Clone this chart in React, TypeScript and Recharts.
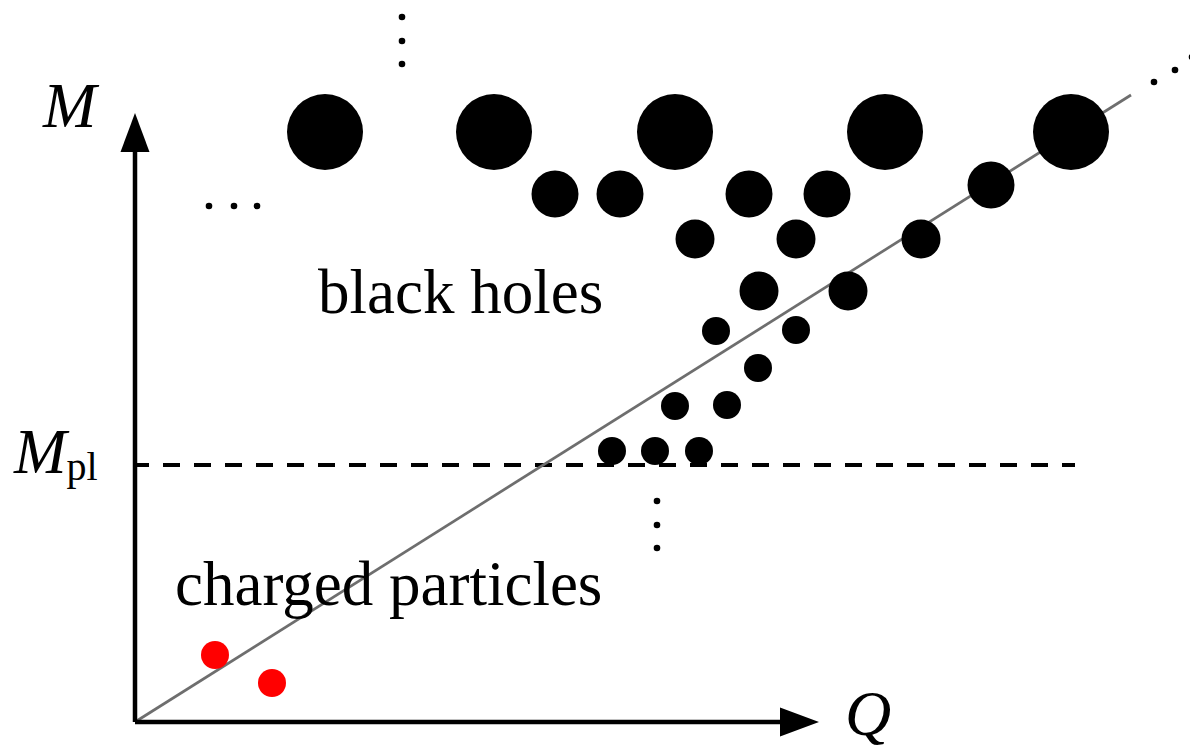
import React from "react";
import {
  ScatterChart,
  Scatter,
  XAxis,
  YAxis,
  ReferenceLine,
  ReferenceDot,
} from "recharts";

// charge Q along x, mass M along y, origin at the corner of the axes
const bigHoles = [
  { q: 190, m: 590 },
  { q: 359, m: 590 },
  { q: 540, m: 590 },
  { q: 750, m: 590 },
  { q: 936, m: 590 },
];

const mediumHoles = [
  { q: 420, m: 528 },
  { q: 485, m: 528 },
  { q: 614, m: 528 },
  { q: 692, m: 528 },
  { q: 856, m: 537 },
];

const smallHoles = [
  { q: 560, m: 483 },
  { q: 661, m: 483 },
  { q: 786, m: 483 },
  { q: 624, m: 431 },
  { q: 713, m: 431 },
];

const tinyHoles = [
  { q: 581, m: 391 },
  { q: 661, m: 392 },
  { q: 623, m: 354 },
  { q: 540, m: 316 },
  { q: 592, m: 317 },
  { q: 477, m: 271 },
  { q: 520, m: 271 },
  { q: 564, m: 271 },
];

const particles = [
  { q: 80, m: 67 },
  { q: 137, m: 39 },
];

// the "..." marks
const ellipsisDots = [
  { q: 267, m: 705 },
  { q: 267, m: 681 },
  { q: 267, m: 658 },
  { q: 74, m: 516 },
  { q: 99, m: 516 },
  { q: 122, m: 516 },
  { q: 1019, m: 640 },
  { q: 1040, m: 652 },
  { q: 1057, m: 665 },
  { q: 522, m: 221 },
  { q: 522, m: 197 },
  { q: 522, m: 174 },
];

const planckMass = 257;
const planckEnd = 940;
const extremalLine = [
  { x: 0, y: 0 },
  { x: 996, y: 627 },
];
const mAxisTop = 609;
const qAxisEnd = 684;

const FONT = "'Liberation Serif', 'Times New Roman', serif";

const dot = (r: number, fill: string) => (p: any) =>
  <circle cx={p.cx} cy={p.cy} r={r} fill={fill} />;

function Arrow(props: any) {
  const { x1, y1, x2, y2 } = props;
  const len = Math.hypot(x2 - x1, y2 - y1);
  const ux = (x2 - x1) / len;
  const uy = (y2 - y1) / len;
  const head = 39;
  const half = 14.5;
  const bx = x2 - ux * head;
  const by = y2 - uy * head;
  const pts = [
    `${x2},${y2}`,
    `${bx - uy * half},${by + ux * half}`,
    `${bx + uy * half},${by - ux * half}`,
  ].join(" ");
  return (
    <g>
      <line x1={x1} y1={y1} x2={bx} y2={by} stroke="#000" strokeWidth={4.5} />
      <polygon points={pts} fill="#000" />
    </g>
  );
}

const textAt = (content: React.ReactNode, size: number, italic = false) => (p: any) =>
  (
    <text
      x={p.cx}
      y={p.cy}
      fontFamily={FONT}
      fontSize={size}
      fontStyle={italic ? "italic" : "normal"}
      fill="#000"
    >
      {content}
    </text>
  );

export default function App() {
  return (
    <div style={{ position: "absolute", left: 0, top: 0, background: "#fff" }}>
      <ScatterChart width={1190} height={749} margin={{ top: 0, right: 0, bottom: 0, left: 0 }}>
        <XAxis type="number" dataKey="q" domain={[-135, 1055]} hide allowDataOverflow />
        <YAxis type="number" dataKey="m" domain={[-27, 722]} hide allowDataOverflow />

        <ReferenceLine
          segment={[{ x: 0, y: planckMass }, { x: planckEnd, y: planckMass }]}
          stroke="#000"
          strokeWidth={4}
          strokeDasharray="17 14"
          strokeDashoffset={3}
        />
        <ReferenceLine segment={extremalLine} stroke="#6e6e6e" strokeWidth={2.7} />
        <ReferenceLine segment={[{ x: 0, y: 0 }, { x: 0, y: mAxisTop }]} shape={Arrow} />
        <ReferenceLine segment={[{ x: 0, y: 0 }, { x: qAxisEnd, y: 0 }]} shape={Arrow} />

        <Scatter data={bigHoles} shape={dot(38, "#000")} isAnimationActive={false} />
        <Scatter data={mediumHoles} shape={dot(23.5, "#000")} isAnimationActive={false} />
        <Scatter data={smallHoles} shape={dot(19.5, "#000")} isAnimationActive={false} />
        <Scatter data={tinyHoles} shape={dot(14, "#000")} isAnimationActive={false} />
        <Scatter data={particles} shape={dot(14, "#ff0000")} isAnimationActive={false} />
        <Scatter data={ellipsisDots} shape={dot(3.3, "#000")} isAnimationActive={false} />

        <ReferenceDot x={183} y={409} r={0} shape={textAt("black holes", 63)} />
        <ReferenceDot x={40} y={117} r={0} shape={textAt("charged particles", 63)} />
        <ReferenceDot x={-92} y={595} r={0} shape={textAt("M", 64, true)} />
        <ReferenceDot x={710} y={-13} r={0} shape={textAt("Q", 64, true)} />
        <ReferenceDot
          x={-121}
          y={249}
          r={0}
          shape={textAt(
            <>
              <tspan fontStyle="italic" fontSize={63}>M</tspan>
              <tspan fontSize={40} dy={7}>pl</tspan>
            </>,
            63
          )}
        />
      </ScatterChart>
    </div>
  );
}
